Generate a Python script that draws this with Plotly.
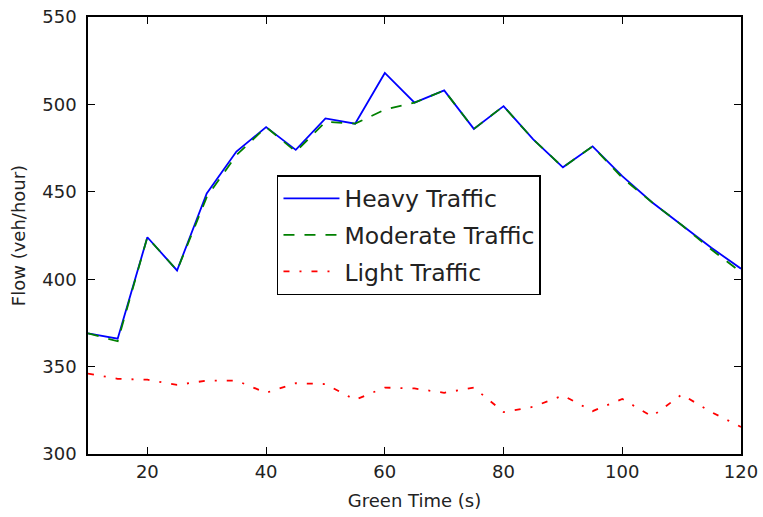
import plotly.graph_objects as go

# Green time settings (s)
green_time = [10, 15, 20, 25, 30, 35, 40, 45, 50, 55, 60, 65,
              70, 75, 80, 85, 90, 95, 100, 105, 110, 115, 120]

# Flow (veh/hour) per traffic level
heavy = [369, 366, 424, 405, 449, 473, 487, 474, 492, 489, 518, 501,
         508, 486, 499, 480, 464, 476, 459, 444, 431, 418, 406]
moderate = [369, 364.5, 424, 405, 447, 471, 487, 473, 490, 489, 497, 501,
            508, 486, 499, 480, 464, 476, 458, 444, 431, 417, 404]
light = [346, 343, 342.5, 339.5, 342, 342, 335, 340.5, 340, 331, 338, 337.5,
         335, 338, 324, 327, 333.5, 324.5, 331.5, 321.5, 334, 324, 315.5]

x_ticks = [20, 40, 60, 80, 100, 120]
y_ticks = [300, 350, 400, 450, 500, 550]

FONT = "DejaVu Sans"
TEXT = "#222222"

fig = go.Figure()
fig.add_trace(go.Scatter(x=green_time, y=heavy, mode="lines", name="Heavy Traffic",
                         legendgroup="h",
                         line=dict(color="#0000ff", width=1.8)))
fig.add_trace(go.Scatter(x=green_time, y=moderate, mode="lines", name="Moderate Traffic",
                         legendgroup="m",
                         line=dict(color="#008000", width=1.8, dash="11px,10px")))
fig.add_trace(go.Scatter(x=green_time, y=light, mode="lines", name="Light Traffic",
                         legendgroup="l",
                         line=dict(color="#ff0000", width=1.8, dash="6px,10px,2px,10px")))

axis_common = dict(
    showline=True, linecolor="black", linewidth=1.5, mirror="ticks",
    ticks="inside", ticklen=7, tickwidth=1, tickcolor="black",
    showgrid=False, zeroline=False, automargin=False,
    tickfont=dict(family=FONT, size=18, color=TEXT),
)

fig.update_layout(
    width=763, height=517,
    margin=dict(l=88, r=22, t=17, b=63),
    paper_bgcolor="white", plot_bgcolor="white",
    font=dict(family=FONT, color=TEXT),
    xaxis=dict(range=[10, 120], tickvals=x_ticks, ticklabelstandoff=1,
               title=dict(text="Green Time (s)", font=dict(family=FONT, size=18, color=TEXT),
                          standoff=13),
               **axis_common),
    yaxis=dict(range=[300, 550], tickvals=y_ticks, ticklabelstandoff=6,
               title=dict(text="Flow (veh/hour)", font=dict(family=FONT, size=18, color=TEXT),
                          standoff=12),
               **axis_common),
    legend=dict(x=0.2894, y=0.6384, xanchor="left", yanchor="top",
                bgcolor="white", bordercolor="black", borderwidth=1.5,
                font=dict(family=FONT, size=23.5, color=TEXT),
                itemwidth=56, tracegroupgap=3, traceorder="grouped"),
    showlegend=True,
)

fig.write_html("out.html")
